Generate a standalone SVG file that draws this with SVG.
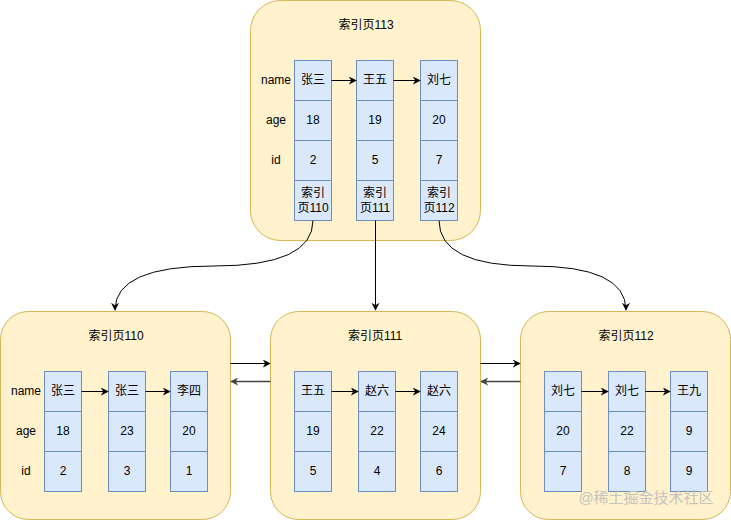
<svg xmlns="http://www.w3.org/2000/svg" width="731" height="521" viewBox="0 0 731 521">
<defs>
<marker id="ah" viewBox="0 0 10 10" refX="9" refY="5" markerWidth="8" markerHeight="8" markerUnits="userSpaceOnUse" orient="auto">
<path d="M0,0 L10,5 L0,10 L3,5 Z" fill="#000"/>
</marker>
<marker id="ahg" viewBox="0 0 10 10" refX="9" refY="5" markerWidth="8" markerHeight="8" markerUnits="userSpaceOnUse" orient="auto">
<path d="M0,0 L10,5 L0,10 L3,5 Z" fill="#444"/>
</marker>
<style>
.pg{fill:#fff2cc;stroke:#d6b656;stroke-width:1}
.c{fill:#dae8fc;stroke:#6c8ebf;stroke-width:1}
text{font-family:"Liberation Sans","Noto Sans CJK SC",sans-serif;font-size:12px;fill:#000;text-anchor:middle;dominant-baseline:central}
.e{stroke:#000;stroke-width:1;fill:none;marker-end:url(#ah)}
.eg{stroke:#444;stroke-width:1.3;fill:none;marker-end:url(#ahg)}
</style>
</defs>

<g id="page113">
<rect class="pg" x="250.5" y="0.5" width="230" height="240" rx="30"/>
<text x="366" y="25">索引页113</text>
<text x="276" y="80">name</text><text x="276" y="120">age</text><text x="276" y="160">id</text>
<rect class="c" x="294.5" y="60.5" width="37" height="40"/><rect class="c" x="294.5" y="100.5" width="37" height="40"/><rect class="c" x="294.5" y="140.5" width="37" height="40"/><rect class="c" x="294.5" y="180.5" width="37" height="40"/>
<rect class="c" x="356.5" y="60.5" width="37" height="40"/><rect class="c" x="356.5" y="100.5" width="37" height="40"/><rect class="c" x="356.5" y="140.5" width="37" height="40"/><rect class="c" x="356.5" y="180.5" width="37" height="40"/>
<rect class="c" x="420.5" y="60.5" width="37" height="40"/><rect class="c" x="420.5" y="100.5" width="37" height="40"/><rect class="c" x="420.5" y="140.5" width="37" height="40"/><rect class="c" x="420.5" y="180.5" width="37" height="40"/>
<text x="313" y="80">张三</text><text x="313" y="120">18</text><text x="313" y="160">2</text><text x="313" y="193">索引</text><text x="313" y="208">页110</text>
<text x="375" y="80">王五</text><text x="375" y="120">19</text><text x="375" y="160">5</text><text x="375" y="193">索引</text><text x="375" y="208">页111</text>
<text x="439" y="80">刘七</text><text x="439" y="120">20</text><text x="439" y="160">7</text><text x="439" y="193">索引</text><text x="439" y="208">页112</text>
</g>

<g id="page110">
<rect class="pg" x="0.5" y="311.5" width="230" height="208" rx="28"/>
<text x="116" y="336">索引页110</text>
<text x="26" y="391">name</text><text x="26" y="431">age</text><text x="26" y="471">id</text>
<rect class="c" x="44.5" y="371.5" width="37" height="40"/><rect class="c" x="44.5" y="411.5" width="37" height="40"/><rect class="c" x="44.5" y="451.5" width="37" height="40"/>
<rect class="c" x="108.5" y="371.5" width="37" height="40"/><rect class="c" x="108.5" y="411.5" width="37" height="40"/><rect class="c" x="108.5" y="451.5" width="37" height="40"/>
<rect class="c" x="170.5" y="371.5" width="37" height="40"/><rect class="c" x="170.5" y="411.5" width="37" height="40"/><rect class="c" x="170.5" y="451.5" width="37" height="40"/>
<text x="63" y="391">张三</text><text x="63" y="431">18</text><text x="63" y="471">2</text>
<text x="127" y="391">张三</text><text x="127" y="431">23</text><text x="127" y="471">3</text>
<text x="189" y="391">李四</text><text x="189" y="431">20</text><text x="189" y="471">1</text>
</g>

<g id="page111">
<rect class="pg" x="270.5" y="311.5" width="210" height="208" rx="28"/>
<text x="375" y="336">索引页111</text>
<rect class="c" x="294.5" y="371.5" width="37" height="40"/><rect class="c" x="294.5" y="411.5" width="37" height="40"/><rect class="c" x="294.5" y="451.5" width="37" height="40"/>
<rect class="c" x="358.5" y="371.5" width="37" height="40"/><rect class="c" x="358.5" y="411.5" width="37" height="40"/><rect class="c" x="358.5" y="451.5" width="37" height="40"/>
<rect class="c" x="420.5" y="371.5" width="37" height="40"/><rect class="c" x="420.5" y="411.5" width="37" height="40"/><rect class="c" x="420.5" y="451.5" width="37" height="40"/>
<text x="313" y="391">王五</text><text x="313" y="431">19</text><text x="313" y="471">5</text>
<text x="377" y="391">赵六</text><text x="377" y="431">22</text><text x="377" y="471">4</text>
<text x="439" y="391">赵六</text><text x="439" y="431">24</text><text x="439" y="471">6</text>
</g>

<g id="page112">
<rect class="pg" x="520.5" y="311.5" width="210" height="208" rx="28"/>
<text x="626" y="336">索引页112</text>
<rect class="c" x="544.5" y="371.5" width="37" height="40"/><rect class="c" x="544.5" y="411.5" width="37" height="40"/><rect class="c" x="544.5" y="451.5" width="37" height="40"/>
<rect class="c" x="608.5" y="371.5" width="37" height="40"/><rect class="c" x="608.5" y="411.5" width="37" height="40"/><rect class="c" x="608.5" y="451.5" width="37" height="40"/>
<rect class="c" x="670.5" y="371.5" width="37" height="40"/><rect class="c" x="670.5" y="411.5" width="37" height="40"/><rect class="c" x="670.5" y="451.5" width="37" height="40"/>
<text x="563" y="391">刘七</text><text x="563" y="431">20</text><text x="563" y="471">7</text>
<text x="627" y="391">刘七</text><text x="627" y="431">22</text><text x="627" y="471">8</text>
<text x="689" y="391">王九</text><text x="689" y="431">9</text><text x="689" y="471">9</text>
</g>

<g id="connectors">
<path class="e" d="M331.5,80.5 H356"/>
<path class="e" d="M393.5,80.5 H420"/>
<path class="e" d="M81.5,391.5 H108"/>
<path class="e" d="M145.5,391.5 H170"/>
<path class="e" d="M331.5,391.5 H358"/>
<path class="e" d="M395.5,391.5 H420"/>
<path class="e" d="M581.5,391.5 H608"/>
<path class="e" d="M645.5,391.5 H670"/>
<path class="e" d="M313,220.5 Q313,266 214,266 Q115,266 115,310"/>
<path class="e" d="M375.5,220.5 V310"/>
<path class="e" d="M439,220.5 Q439,266 532,266 Q626,266 626,310"/>
<path class="e" d="M230.5,363.5 H270"/>
<path class="eg" d="M270.5,381.5 H231"/>
<path class="e" d="M480.5,363.5 H520"/>
<path class="eg" d="M520.5,381.5 H481"/>
</g>

<text x="646" y="497" style="font-size:15px;fill:#c0c0c0;opacity:0.9">@稀土掘金技术社区</text>
</svg>
